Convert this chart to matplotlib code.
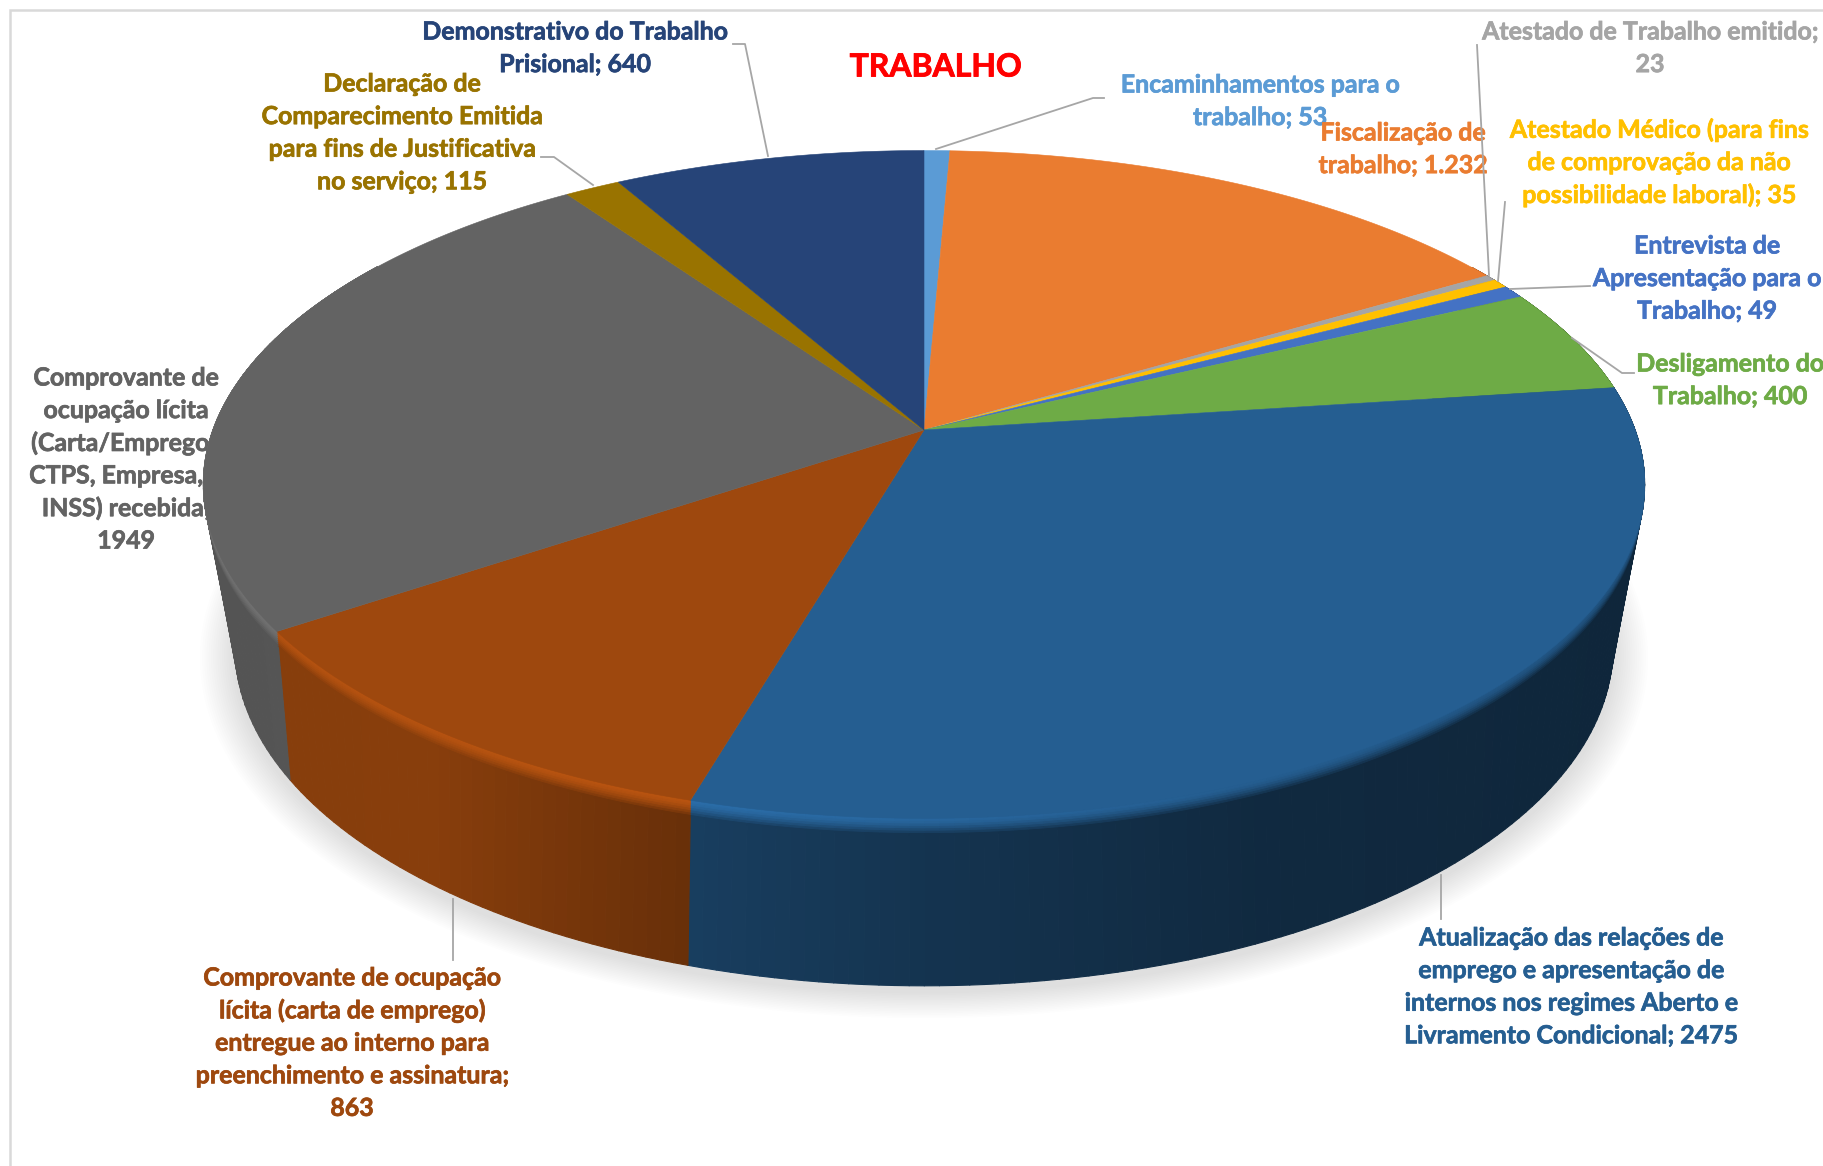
import numpy as np
import matplotlib
matplotlib.use("Agg")
import matplotlib.pyplot as plt
import matplotlib.patheffects as pe
from matplotlib.collections import PolyCollection
from matplotlib.colors import to_rgb

# ---- data ----
values = [53, 1232, 23, 35, 49, 400, 2475, 863, 1949, 115, 640]
colors = ["#5B9BD5", "#EA7C30", "#A5A5A5", "#FFC000", "#4472C4", "#6EAB46",
          "#255E91", "#9E480E", "#636363", "#997300", "#264478"]
label_lines = [
    ["Encaminhamentos para o", "trabalho; 53"],
    ["Fiscalização de", "trabalho; 1.232"],
    ["Atestado de Trabalho emitido;", "23"],
    ["Atestado Médico (para fins", "de comprovação da não", "possibilidade laboral); 35"],
    ["Entrevista de", "Apresentação para o", "Trabalho; 49"],
    ["Desligamento do", "Trabalho; 400"],
    ["Atualização das relações de", "emprego e apresentação de",
     "internos nos regimes Aberto e", "Livramento Condicional; 2475"],
    ["Comprovante de ocupação", "lícita (carta de emprego)", "entregue ao interno para",
     "preenchimento e assinatura;", "863"],
    ["Comprovante de", "ocupação lícita", "(Carta/Emprego/", "CTPS, Empresa,", "INSS) recebida;", "1949"],
    ["Declaração de", "Comparecimento Emitida", "para fins de Justificativa", "no serviço; 115"],
    ["Demonstrativo do Trabalho", "Prisional; 640"],
]
label_pos = [(1260, 85), (1403, 133), (1650, 32), (1659, 130), (1707, 246), (1730, 364),
             (1571, 938), (352, 978), (126, 378), (402, 84), (575, 32)]
leaders = [
    [(1104, 98), (1093, 98), (936, 149)],
    [],
    [(1477, 45), (1489, 275)],
    [(1505, 202), (1498, 281)],
    [(1590, 286), (1510, 289)],
    [(1634, 373), (1622, 373), (1572, 338)],
    [(1441, 919), (1441, 875)],
    [(453, 960), (453, 899)],
    [],
    [(541, 157), (554, 157), (593, 185)],
    [(733, 44), (745, 44), (768, 156)],
]
title = "TRABALHO"

# ---- projection of the disc (perspective) ----
CX = 924
TOP = dict(cy=430, R=711, A=325, p=0.163)
LOW = dict(cy=573, R=672, A=322, p=0.22)


def ring(theta, g):
    X, Y = np.sin(theta), np.cos(theta)
    w = 1 + g["p"] * Y
    return CX + g["R"] * X / w, g["cy"] - g["A"] * Y / w


def shade(X):
    return np.interp(X, [-1, -0.6, -0.28, 0, 0.4, 1], [0.85, 0.86, 0.66, 0.55, 0.44, 0.40])


def bevel(X):
    return np.interp(X, [-1, -0.3, 0.2, 1], [1.12, 1.16, 1.03, 0.85])


plt.rcParams["font.family"] = ["Lato", "DejaVu Sans"]
fig = plt.figure(figsize=(18.23, 11.66), dpi=100)
ax = fig.add_axes([0, 0, 1, 1])
ax.set_xlim(0, 1823)
ax.set_ylim(1166, 0)
ax.axis("off")

# frame
ax.plot([10, 10, 1823], [1166, 10, 10], color="#D9D9D9", lw=1.8, zorder=1,
        solid_joinstyle="miter")

# labels (under the pie, some are partly hidden by it)
FS = 17.95
for lines, (x, y), col in zip(label_lines, label_pos, colors):
    for i, line in enumerate(lines):
        xx = 116 if line.startswith("CTPS") else x
        ax.text(xx, y + i * 32.6, line, color=col, fontsize=FS, fontweight="bold",
                ha="center", va="center", zorder=2,
                path_effects=[pe.withStroke(linewidth=0.5, foreground=col)])
ax.text(936, 67, title, color="#FF0000", fontsize=23, fontweight="bold",
        ha="center", va="center", zorder=2,
        path_effects=[pe.withStroke(linewidth=0.6, foreground="#FF0000")])

# leader lines
for seg in leaders:
    if seg:
        xs, ys = zip(*seg)
        ax.plot(xs, ys, color="#A6A6A6", lw=1.3, zorder=9)

# soft shadow
th = np.linspace(0, 2 * np.pi, 361)
for k in range(16, 0, -1):
    sx, sy = ring(th, LOW)
    gx = CX + (sx - CX) * (1 + k * 0.0032)
    gy = LOW["cy"] + 6 + (sy - LOW["cy"]) * (1 + k * 0.0040)
    ax.fill(gx, gy, color="black", alpha=0.008, lw=0, zorder=3)

# slices
fractions = np.array(values) / np.sum(values)
edges = np.concatenate([[0], np.cumsum(fractions)]) * 2 * np.pi

NB = 7
side_polys, side_cols = [], []
rim_polys = [[] for _ in range(NB)]
rim_cols = [[] for _ in range(NB)]
for a0, a1, col in zip(edges[:-1], edges[1:], colors):
    base = np.array(to_rgb(col))
    n = max(2, int(np.degrees(a1 - a0)))
    t = np.linspace(a0, a1, n + 1)
    for i in range(n):
        if np.cos((t[i] + t[i + 1]) / 2) > 0.55:
            continue
        x0, y0 = ring(t[i:i + 2], TOP)
        x1, y1 = ring(t[i:i + 2], LOW)
        Xm = np.sin((t[i] + t[i + 1]) / 2)
        side = base * shade(Xm)
        side_polys.append(np.c_[[x0[0], x0[1], x1[1], x1[0]], [y0[0], y0[1], y1[1], y1[0]]])
        side_cols.append(side)
        # rounded rim between the top surface and the side
        hi = np.clip(base * bevel(Xm), 0, 1)
        for b in range(NB):
            f1 = 0.10 * (b + 1) / NB
            xb, yb = x0 + (x1 - x0) * f1, y0 + (y1 - y0) * f1
            m = (b / (NB - 1)) ** 1.5
            rim_polys[b].append(np.c_[[x0[0], x0[1], xb[1], xb[0]], [y0[0], y0[1], yb[1], yb[0]]])
            rim_cols[b].append(hi * (1 - m) + side * m)
ax.add_collection(PolyCollection(side_polys, facecolors=side_cols, edgecolors=side_cols,
                                 linewidths=0.8, zorder=4))
# deepest rim band first, each shallower one on top of it
for b in range(NB - 1, -1, -1):
    ax.add_collection(PolyCollection(rim_polys[b], facecolors=rim_cols[b], edgecolors=rim_cols[b],
                                     linewidths=0.6, zorder=4.1 + (NB - b) * 0.01))

for a0, a1, col in zip(edges[:-1], edges[1:], colors):
    t = np.linspace(a0, a1, max(3, int(np.degrees(a1 - a0) * 2)))
    x, y = ring(t, TOP)
    ax.fill(np.r_[CX, x], np.r_[TOP["cy"], y], color=col, lw=0.4, zorder=5)

fig.savefig("out.png", dpi=100)
